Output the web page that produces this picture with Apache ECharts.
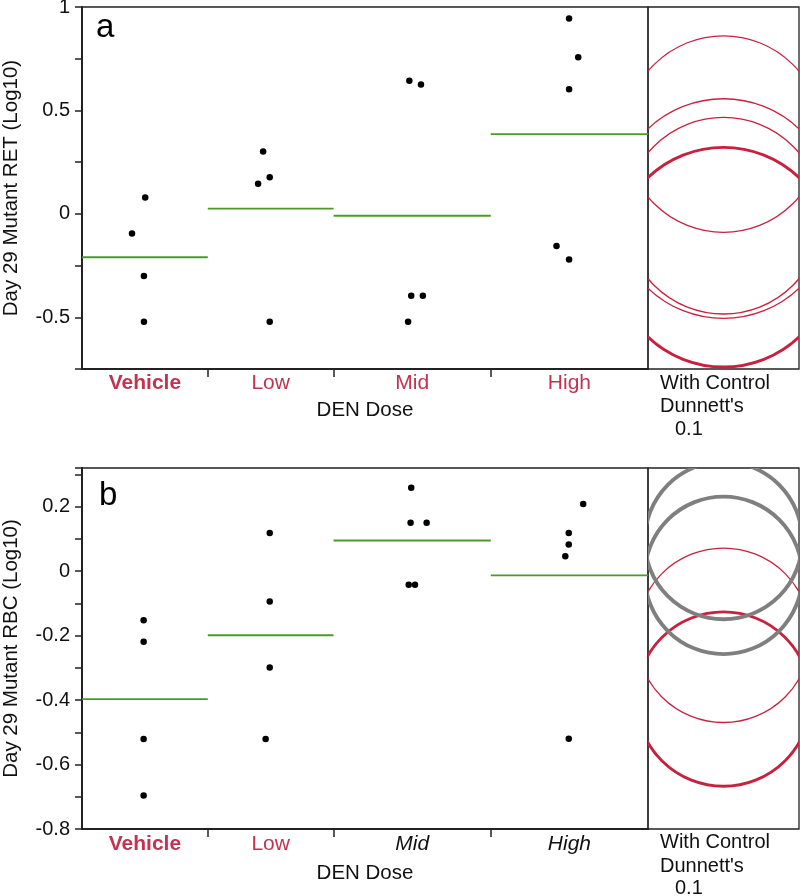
<!DOCTYPE html>
<html><head><meta charset="utf-8">
<script src="https://cdn.jsdelivr.net/npm/echarts@6/dist/echarts.min.js"></script>
<style>html,body{margin:0;padding:0;background:#fff}#c{width:800px;height:896px}</style>
</head><body><div id="c"></div>
<script>
// ---------- data ----------
const categories = ['Vehicle', 'Low', 'Mid', 'High'];
const groupSizes = [4, 4, 5, 5];

// Panel a: Day 29 Mutant RET (Log10)
const retVehicle = [0.079, -0.095, -0.300, -0.522];
const retLow     = [0.301, 0.146, 0.177, -0.522];
const retMid     = [0.644, 0.625, -0.396, -0.396, -0.522];
const retHigh    = [0.945, 0.757, 0.602, -0.155, -0.221];
const retJitter  = [[0.01, -0.41, -0.03, -0.03], [-0.24, -0.40, -0.03, -0.03],
                    [-0.09, 0.28, -0.03, 0.34, -0.13], [-0.01, 0.28, -0.01, -0.41, -0.01]];
const retCircleRadius = [0.531, 0.531, 0.475, 0.475];
const retCircleKind   = [0, 1, 1, 1]; // 0 control, 1 not significant, 2 significant

// Panel b: Day 29 Mutant RBC (Log10)
const rbcVehicle = [-0.152, -0.219, -0.521, -0.696];
const rbcLow     = [0.118, -0.094, -0.299, -0.521];
const rbcMid     = [0.259, 0.150, 0.150, -0.042, -0.042];
const rbcHigh    = [0.208, 0.118, 0.083, 0.046, -0.520];
const rbcJitter  = [[-0.04, -0.04, -0.04, -0.04], [-0.03, -0.03, -0.03, -0.16],
                    [-0.03, -0.05, 0.46, -0.11, 0.09], [0.44, -0.02, -0.02, -0.13, -0.02]];
const rbcCircleRadius = [0.2706, 0.2706, 0.2443, 0.2443];
const rbcCircleKind   = [0, 1, 2, 2];

const retTicks = { min: -0.75, max: 1, interval: 0.25, labelStep: 0.5 };
const rbcTicks = { min: -0.8, max: 0.32, interval: 0.1, labelStep: 0.2 };

// ---------- derived ----------
const RED = '#c8213f', LABEL_RED = '#c23350', GRAY = '#7f7f7f', GREEN = '#4c9a26';
const FONT = '"Liberation Sans", Arial, sans-serif';
const bounds = [0];
groupSizes.forEach(n => bounds.push(bounds[bounds.length - 1] + n));
const centers = groupSizes.map((n, i) => (bounds[i] + bounds[i + 1]) / 2);
const mean = a => a.reduce((s, v) => s + v, 0) / a.length;

function buildPanel(groups, jitter, radius, kinds) {
  const points = [];
  groups.forEach((g, i) => g.forEach((v, j) => points.push([centers[i] + jitter[i][j], v])));
  const means = groups.map(mean);
  const lines = means.map((m, i) => [bounds[i], bounds[i + 1], m]);
  const circles = means.map((m, i) => [0.5, m, radius[i], kinds[i]]);
  circles.sort((a, b) => (a[3] === 2) - (b[3] === 2));
  return { points, lines, circles };
}
const pa = buildPanel([retVehicle, retLow, retMid, retHigh], retJitter, retCircleRadius, retCircleKind);
const pb = buildPanel([rbcVehicle, rbcLow, rbcMid, rbcHigh], rbcJitter, rbcCircleRadius, rbcCircleKind);

function meanLineRender(params, api) {
  const p1 = api.coord([api.value(0), api.value(2)]);
  const p2 = api.coord([api.value(1), api.value(2)]);
  return { type: 'line', shape: { x1: p1[0], y1: p1[1], x2: p2[0], y2: p2[1] },
           style: { stroke: GREEN, lineWidth: 1.9 } };
}
function circleRender(params, api) {
  const c = api.coord([api.value(0), api.value(1)]);
  const r = api.size([0, api.value(2)])[1];
  const k = api.value(3);
  const cs = params.coordSys;
  const st = k === 0 ? { stroke: RED, lineWidth: 2.9 } : k === 1 ? { stroke: RED, lineWidth: 1.3 } : { stroke: GRAY, lineWidth: 3.9 };
  return { type: 'circle', shape: { cx: c[0], cy: c[1], r: r },
           style: Object.assign({ fill: null }, st),
           clipPath: { type: 'rect', shape: { x: cs.x, y: cs.y, width: cs.width, height: cs.height } } };
}
function yFormatter(step) {
  return v => {
    const q = v / step;
    if (Math.abs(q - Math.round(q)) > 1e-6) return '';
    const r = Math.round(v * 100) / 100;
    return String(r);
  };
}
function catFormatter(styles) {
  return v => {
    const i = centers.findIndex(c => Math.abs(c - v) < 1e-6);
    if (i < 0) return '';
    return '{' + styles[i] + '|' + categories[i] + '}';
  };
}
const rich = {
  rb: { color: LABEL_RED, fontSize: 21, fontWeight: 'bold', fontFamily: FONT },
  r: { color: LABEL_RED, fontSize: 21, fontFamily: FONT },
  ki: { color: '#111', fontSize: 21, fontStyle: 'italic', fontFamily: FONT }
};

function mainX(gridIndex, styles, margin, nameGap) {
  return {
    type: 'value', gridIndex, min: bounds[0], max: bounds[bounds.length - 1],
    axisLine: { show: true, onZero: false, lineStyle: { color: '#222', width: 2 } },
    axisTick: { show: true, customValues: bounds.slice(1, -1), length: 8, lineStyle: { color: '#222', width: 1.5 } },
    axisLabel: { customValues: centers, formatter: catFormatter(styles), rich, margin },
    splitLine: { show: false },
    name: 'DEN Dose', nameLocation: 'middle', nameGap: nameGap,
    nameTextStyle: { fontSize: 20.5, color: '#111', fontFamily: FONT }
  };
}
function mainY(gridIndex, t, name) {
  return {
    type: 'value', gridIndex, min: t.min, max: t.max, interval: t.interval,
    axisLine: { show: true, onZero: false, lineStyle: { color: '#222', width: 2 } },
    axisTick: { show: true, length: 7, lineStyle: { color: '#222', width: 1.5 } },
    axisLabel: { formatter: yFormatter(t.labelStep), fontSize: 20, color: '#111', fontFamily: FONT, margin: 12, showMaxLabel: true },
    splitLine: { show: false },
    name, nameLocation: 'middle', nameGap: 60,
    nameTextStyle: { fontSize: 20.5, color: '#111', fontFamily: FONT }
  };
}
const hiddenX = g => ({ type: 'value', gridIndex: g, min: 0, max: 1, show: false });
const hiddenY = (g, t) => ({ type: 'value', gridIndex: g, min: t.min, max: t.max, show: false });

const gridStyle = { show: true, borderColor: '#222', borderWidth: 1.3, backgroundColor: 'transparent',
                    containLabel: false, outerBoundsMode: 'none' };

const option = {
  animation: false,
  backgroundColor: '#fff',
  grid: [
    Object.assign({ left: 82, top: 7, width: 566, height: 362 }, gridStyle),
    Object.assign({ left: 648, top: 7, width: 151, height: 362 }, gridStyle),
    Object.assign({ left: 82, top: 468, width: 566, height: 361 }, gridStyle),
    Object.assign({ left: 648, top: 468, width: 151, height: 361 }, gridStyle)
  ],
  xAxis: [
    mainX(0, ['rb', 'r', 'r', 'r'], 4, 31),
    hiddenX(1),
    mainX(2, ['rb', 'r', 'ki', 'ki'], 5, 34),
    hiddenX(3)
  ],
  yAxis: [
    mainY(0, retTicks, 'Day 29 Mutant RET (Log10)'),
    hiddenY(1, retTicks),
    mainY(2, rbcTicks, 'Day 29 Mutant RBC (Log10)'),
    hiddenY(3, rbcTicks)
  ],
  series: [
    { type: 'custom', xAxisIndex: 0, yAxisIndex: 0, renderItem: meanLineRender, data: pa.lines, z: 2 },
    { type: 'scatter', xAxisIndex: 0, yAxisIndex: 0, data: pa.points, symbolSize: 6.5, itemStyle: { color: '#000', opacity: 1 }, z: 3 },
    { type: 'custom', xAxisIndex: 1, yAxisIndex: 1, renderItem: circleRender, data: pa.circles },
    { type: 'custom', xAxisIndex: 2, yAxisIndex: 2, renderItem: meanLineRender, data: pb.lines, z: 2 },
    { type: 'scatter', xAxisIndex: 2, yAxisIndex: 2, data: pb.points, symbolSize: 6.5, itemStyle: { color: '#000', opacity: 1 }, z: 3 },
    { type: 'custom', xAxisIndex: 3, yAxisIndex: 3, renderItem: circleRender, data: pb.circles }
  ],
  graphic: [
    { type: 'text', x: 96, y: 28, style: { text: 'a', font: '33px ' + FONT, fill: '#000', verticalAlign: 'middle' } },
    { type: 'text', x: 99, y: 496, style: { text: 'b', font: '33px ' + FONT, fill: '#000', verticalAlign: 'middle' } },
    { type: 'text', x: 660, y: 383, style: { text: 'With Control', font: '20px ' + FONT, fill: '#111', verticalAlign: 'middle' } },
    { type: 'text', x: 660, y: 406, style: { text: "Dunnett's", font: '20px ' + FONT, fill: '#111', verticalAlign: 'middle' } },
    { type: 'text', x: 675, y: 429, style: { text: '0.1', font: '20px ' + FONT, fill: '#111', verticalAlign: 'middle' } },
    { type: 'text', x: 660, y: 842, style: { text: 'With Control', font: '20px ' + FONT, fill: '#111', verticalAlign: 'middle' } },
    { type: 'text', x: 660, y: 866, style: { text: "Dunnett's", font: '20px ' + FONT, fill: '#111', verticalAlign: 'middle' } },
    { type: 'text', x: 675, y: 888, style: { text: '0.1', font: '20px ' + FONT, fill: '#111', verticalAlign: 'middle' } }
  ]
};
const chart = echarts.init(document.getElementById('c'), null, { renderer: 'canvas' });
chart.setOption(option);
</script>
</body></html>
